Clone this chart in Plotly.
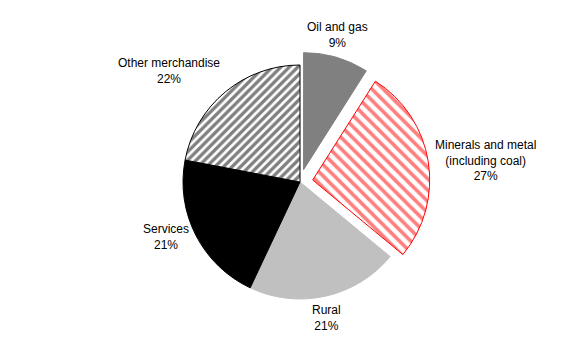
import math
import plotly.graph_objects as go

labels = ["Oil and gas", "Minerals and metal<br>(including coal)", "Rural", "Services", "Other merchandise"]
values = [9, 27, 21, 21, 22]
colors = ["#808080", "#FFFFFF", "#C0C0C0", "#000000", "#FFFFFF"]
line_colors = ["#808080", "#FF0000", "#C0C0C0", "#000000", "#000000"]
pattern_shapes = ["", "\\", "", "", "/"]
pattern_fg = ["#808080", "#FF0000", "#C0C0C0", "#000000", "#000000"]
pattern_sizes = [6, 8, 6, 6, 6]
pattern_solidity = [0.5, 0.45, 0.5, 0.5, 0.55]
pulls = [0.11, 0.11, 0, 0, 0]

W, H = 567, 341
CX, CY, R = 300, 182, 117   # pie centre / radius in px
GAP = 5
max_pull = max(pulls)
half = R * (1 + max_pull)

fig = go.Figure(go.Pie(
    labels=labels,
    values=values,
    sort=False,
    direction="clockwise",
    rotation=0,
    pull=pulls,
    marker=dict(
        colors=colors,
        line=dict(color=line_colors, width=1),
        pattern=dict(shape=pattern_shapes, fgcolor=pattern_fg, bgcolor="#FFFFFF",
                     size=pattern_sizes, solidity=pattern_solidity, fillmode="overlay"),
    ),
    textinfo="none",
    showlegend=False,
    domain=dict(x=[(CX - half) / W, (CX + half) / W],
                y=[1 - (CY + half) / H, 1 - (CY - half) / H]),
    hoverinfo="label+value",
))

total = sum(values)
cum = 0
for lab, v, p in zip(labels, values, pulls):
    mid = (cum + v / 2) / total * 2 * math.pi
    cum += v
    s, c = math.sin(mid), math.cos(mid)
    dist = R * (1 + p) + GAP
    px = CX + dist * s
    py = CY - dist * c
    xa = "left" if s > 0.3 else ("right" if s < -0.3 else "center")
    ya = "bottom" if c > 0.5 else ("top" if c < -0.5 else "middle")
    fig.add_annotation(
        x=px / W, y=1 - py / H, xref="paper", yref="paper",
        text=f"{lab}<br>{v}%", showarrow=False,
        xanchor=xa, yanchor=ya, align="center",
        font=dict(family="Liberation Sans, Arial", size=12, color="#000000"),
    )

fig.update_layout(
    width=W, height=H,
    margin=dict(l=0, r=0, t=0, b=0),
    paper_bgcolor="#FFFFFF",
    plot_bgcolor="#FFFFFF",
    font=dict(family="Liberation Sans, Arial", size=12, color="#000000"),
)

fig.write_html("out.html")
